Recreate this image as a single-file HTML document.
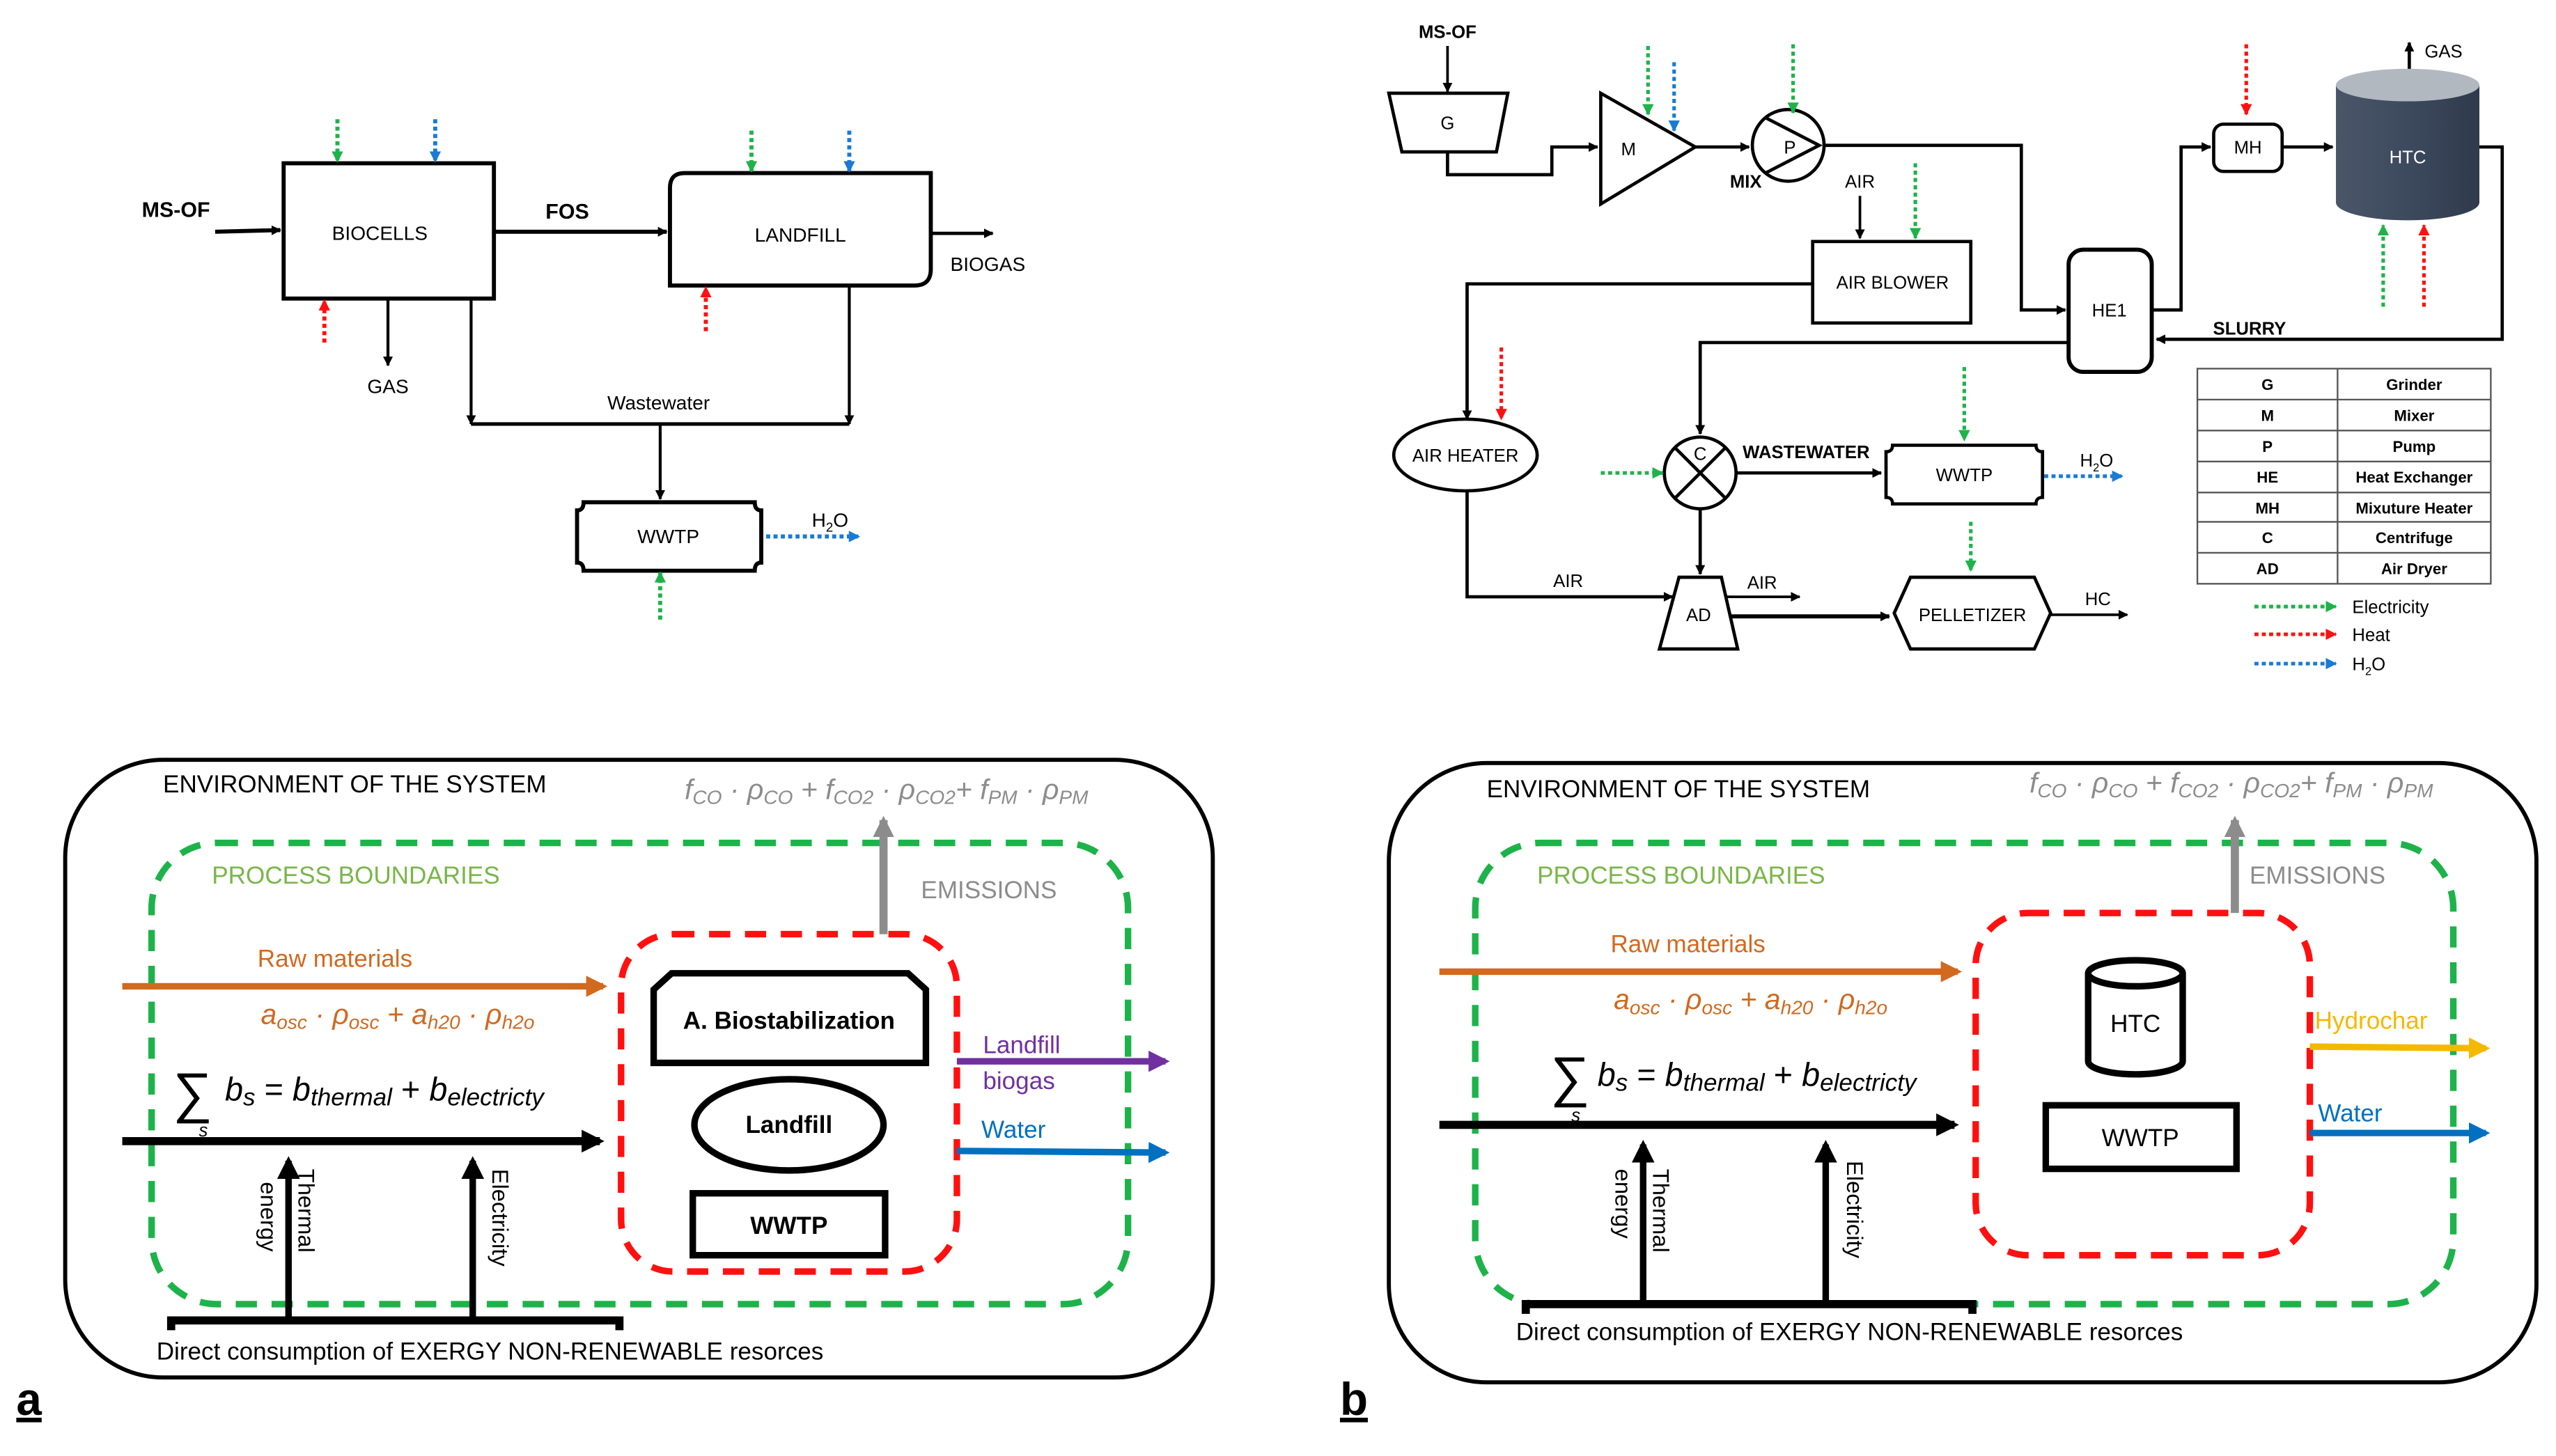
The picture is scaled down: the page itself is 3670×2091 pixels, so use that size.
<!DOCTYPE html>
<html><head><meta charset="utf-8"><style>
html,body{margin:0;padding:0;background:#fff}
svg{display:block}
text{font-family:"Liberation Sans Narrow","Liberation Sans",sans-serif}
.b{font-weight:bold}
</style></head><body>
<svg width="3670" height="2091" viewBox="0 0 1568 893" xmlns="http://www.w3.org/2000/svg">
<defs>
<marker id="ak" viewBox="0 0 10 10" refX="9" refY="5" markerWidth="6" markerHeight="6" markerUnits="userSpaceOnUse" orient="auto"><path d="M0,0L10,5L0,10z" fill="#000"/></marker>
<marker id="ag" viewBox="0 0 10 10" refX="9" refY="5" markerWidth="7" markerHeight="7" markerUnits="userSpaceOnUse" orient="auto"><path d="M0,0L10,5L0,10z" fill="#1db34a"/></marker>
<marker id="ar" viewBox="0 0 10 10" refX="9" refY="5" markerWidth="7" markerHeight="7" markerUnits="userSpaceOnUse" orient="auto"><path d="M0,0L10,5L0,10z" fill="#ff1010"/></marker>
<marker id="ab" viewBox="0 0 10 10" refX="9" refY="5" markerWidth="7" markerHeight="7" markerUnits="userSpaceOnUse" orient="auto"><path d="M0,0L10,5L0,10z" fill="#1a7ad4"/></marker>
<marker id="AK" viewBox="0 0 10 10" refX="8" refY="5" markerWidth="14" markerHeight="14" markerUnits="userSpaceOnUse" orient="auto"><path d="M0,0L10,5L0,10z" fill="#000"/></marker>
<marker id="AO" viewBox="0 0 10 10" refX="8" refY="5" markerWidth="13" markerHeight="13" markerUnits="userSpaceOnUse" orient="auto"><path d="M0,0L10,5L0,10z" fill="#d2691e"/></marker>
<marker id="AG" viewBox="0 0 10 10" refX="8" refY="5" markerWidth="13" markerHeight="13" markerUnits="userSpaceOnUse" orient="auto"><path d="M0,0L10,5L0,10z" fill="#8c8c8c"/></marker>
<marker id="AP" viewBox="0 0 10 10" refX="8" refY="5" markerWidth="13" markerHeight="13" markerUnits="userSpaceOnUse" orient="auto"><path d="M0,0L10,5L0,10z" fill="#7030a0"/></marker>
<marker id="AB" viewBox="0 0 10 10" refX="8" refY="5" markerWidth="13" markerHeight="13" markerUnits="userSpaceOnUse" orient="auto"><path d="M0,0L10,5L0,10z" fill="#0070c0"/></marker>
<marker id="AY" viewBox="0 0 10 10" refX="8" refY="5" markerWidth="13" markerHeight="13" markerUnits="userSpaceOnUse" orient="auto"><path d="M0,0L10,5L0,10z" fill="#f5b800"/></marker>
</defs>

<!-- ===== Panel a top ===== -->
<g fill="none" stroke="#000" stroke-width="2.5">
<text x="87" y="133" class="b" font-size="13" fill="#000" stroke="none">MS-OF</text>
<line x1="132" y1="142" x2="172" y2="141" marker-end="url(#ak)"/>
<rect x="174" y="100" width="129" height="83"/>
<line x1="303" y1="142" x2="409" y2="142" marker-end="url(#ak)"/>
<path d="M420,106 H571 V165 Q571,175 561,175 H411 V115 Q411,106 420,106Z"/>
<line x1="571" y1="143" x2="609" y2="143" marker-end="url(#ak)" stroke-width="2"/>
<line x1="238" y1="183" x2="238" y2="224" marker-end="url(#ak)" stroke-width="1.8"/>
<line x1="289" y1="183" x2="289" y2="260" stroke-width="1.8" marker-end="url(#ak)"/>
<line x1="521" y1="175" x2="521" y2="260" stroke-width="1.8" marker-end="url(#ak)"/>
<line x1="289" y1="260" x2="521" y2="260" stroke-width="2.2"/>
<line x1="405" y1="260" x2="405" y2="306" marker-end="url(#ak)" stroke-width="1.8"/>
<path d="M358,308 H463 Q463,313 467,313 V345 Q463,345 463,350 H358 Q358,345 354,345 V313 Q358,313 358,308Z"/>
</g>
<g font-size="12" fill="#000">
<text x="233" y="147" text-anchor="middle">BIOCELLS</text>
<text x="491" y="148" text-anchor="middle">LANDFILL</text>
<text x="348" y="134" class="b" font-size="13" text-anchor="middle">FOS</text>
<text x="606" y="166" text-anchor="middle">BIOGAS</text>
<text x="238" y="241" text-anchor="middle">GAS</text>
<text x="404" y="251" text-anchor="middle">Wastewater</text>
<text x="410" y="333" text-anchor="middle">WWTP</text>
<text x="498" y="323">H<tspan font-size="8" dy="3">2</tspan><tspan dy="-3">O</tspan></text>
</g>
<g fill="none" stroke-width="2.5" stroke-dasharray="2.5 2">
<line x1="207" y1="73" x2="207" y2="99" stroke="#1db34a" marker-end="url(#ag)"/>
<line x1="267" y1="73" x2="267" y2="99" stroke="#1a7ad4" marker-end="url(#ab)"/>
<line x1="461" y1="80" x2="461" y2="105" stroke="#1db34a" marker-end="url(#ag)"/>
<line x1="521" y1="80" x2="521" y2="105" stroke="#1a7ad4" marker-end="url(#ab)"/>
<line x1="199" y1="210" x2="199" y2="184" stroke="#ff1010" marker-end="url(#ar)"/>
<line x1="433" y1="203" x2="433" y2="176" stroke="#ff1010" marker-end="url(#ar)"/>
<line x1="405" y1="380" x2="405" y2="351" stroke="#1db34a" marker-end="url(#ag)"/>
<line x1="470" y1="329" x2="527" y2="329" stroke="#1a7ad4" marker-end="url(#ab)"/>
</g>

<!-- ===== Panel b top ===== -->
<defs>
<linearGradient id="cyl" x1="0" x2="1"><stop offset="0" stop-color="#4a5568"/><stop offset="0.5" stop-color="#3d4a5e"/><stop offset="1" stop-color="#2f3a4c"/></linearGradient>
</defs>
<g fill="none" stroke="#000" stroke-width="2">
<line x1="888" y1="28" x2="888" y2="56" marker-end="url(#ak)" stroke-width="1.6"/>
<path d="M852,57 H925 L918,93 H860Z"/>
<path d="M888,93 V107 H952 V90 H980" marker-end="url(#ak)"/>
<path d="M982,57 L1040,90 L982,125Z"/>
<line x1="1040" y1="90" x2="1073" y2="90" marker-end="url(#ak)"/>
<circle cx="1097" cy="89" r="22"/>
<path d="M1083,72 L1116,89 L1083,106"/>
<path d="M1119,89 H1240 V190 H1267" marker-end="url(#ak)"/>
<rect x="1269" y="153" width="51" height="75" rx="9" stroke-width="2.5"/>
<line x1="1141" y1="120" x2="1141" y2="146" marker-end="url(#ak)" stroke-width="1.6"/>
<rect x="1112" y="148" width="97" height="50"/>
<path d="M1112,174 H900 V257" marker-end="url(#ak)"/>
<ellipse cx="899" cy="279" rx="44" ry="22"/>
<path d="M900,301 V366 H1026" marker-end="url(#ak)"/>
<path d="M1320,190 H1338 V90 H1356" marker-end="url(#ak)"/>
<rect x="1358" y="76" width="42" height="29" rx="6"/>
<line x1="1400" y1="90" x2="1431" y2="90" marker-end="url(#ak)"/>
<path d="M1521,90 H1535 V208 H1323" marker-end="url(#ak)"/>
<path d="M1269,210 H1043 V266" marker-end="url(#ak)"/>
<circle cx="1043" cy="290" r="22"/>
<line x1="1028" y1="275" x2="1058" y2="305"/><line x1="1058" y1="275" x2="1028" y2="305"/>
<line x1="1065" y1="290" x2="1154" y2="290" marker-end="url(#ak)"/>
<path d="M1161,273 H1249 Q1249,277 1253,277 V305 Q1249,305 1249,309 H1161 Q1161,305 1157,305 V277 Q1161,277 1161,273Z"/>
<line x1="1043" y1="312" x2="1043" y2="352" marker-end="url(#ak)"/>
<path d="M1030,354 H1056 L1066,398 H1018Z"/>
<line x1="1058" y1="366" x2="1104" y2="366" marker-end="url(#ak)" stroke-width="1.6"/>
<line x1="1061" y1="378" x2="1159" y2="378" marker-end="url(#ak)" stroke-width="2.5"/>
<path d="M1172,354 H1248 L1258,376 L1248,398 H1172 L1162,376Z"/>
<line x1="1258" y1="377" x2="1305" y2="377" marker-end="url(#ak)" stroke-width="1.6"/>
<line x1="1478" y1="52" x2="1478" y2="26" marker-end="url(#ak)"/>
</g>
<path d="M1433,52 V124 A44,11 0 0 0 1521,124 V52Z" fill="url(#cyl)"/>
<ellipse cx="1477" cy="52" rx="44" ry="10" fill="#b2b8c0"/>
<g font-size="11" fill="#000">
<text x="888" y="23" class="b" text-anchor="middle">MS-OF</text>
<text x="888" y="79" text-anchor="middle">G</text>
<text x="999" y="95" text-anchor="middle">M</text>
<text x="1098" y="94" text-anchor="middle">P</text>
<text x="1071" y="115" class="b" text-anchor="middle">MIX</text>
<text x="1141" y="115" text-anchor="middle">AIR</text>
<text x="1161" y="177" text-anchor="middle">AIR BLOWER</text>
<text x="1294" y="194" text-anchor="middle">HE1</text>
<text x="1379" y="94" text-anchor="middle">MH</text>
<text x="1477" y="100" text-anchor="middle" fill="#fff">HTC</text>
<text x="1499" y="35" text-anchor="middle">GAS</text>
<text x="1380" y="205" class="b" text-anchor="middle">SLURRY</text>
<text x="899" y="283" text-anchor="middle">AIR HEATER</text>
<text x="1043" y="282" text-anchor="middle">C</text>
<text x="1108" y="281" class="b" text-anchor="middle">WASTEWATER</text>
<text x="1205" y="295" text-anchor="middle">WWTP</text>
<text x="1276" y="286">H<tspan font-size="7" dy="3">2</tspan><tspan dy="-3">O</tspan></text>
<text x="962" y="360" text-anchor="middle">AIR</text>
<text x="1081" y="361" text-anchor="middle">AIR</text>
<text x="1042" y="381" text-anchor="middle">AD</text>
<text x="1210" y="381" text-anchor="middle">PELLETIZER</text>
<text x="1287" y="371" text-anchor="middle">HC</text>
</g>
<g fill="none" stroke-width="2.2" stroke-dasharray="2.5 2">
<line x1="1011" y1="28" x2="1011" y2="70" stroke="#1db34a" marker-end="url(#ag)"/>
<line x1="1027" y1="38" x2="1027" y2="80" stroke="#1a7ad4" marker-end="url(#ab)"/>
<line x1="1100" y1="27" x2="1100" y2="69" stroke="#1db34a" marker-end="url(#ag)"/>
<line x1="1175" y1="100" x2="1175" y2="146" stroke="#1db34a" marker-end="url(#ag)"/>
<line x1="1378" y1="27" x2="1378" y2="70" stroke="#ff1010" marker-end="url(#ar)"/>
<line x1="1462" y1="188" x2="1462" y2="138" stroke="#1db34a" marker-end="url(#ag)"/>
<line x1="1487" y1="188" x2="1487" y2="138" stroke="#ff1010" marker-end="url(#ar)"/>
<line x1="921" y1="213" x2="921" y2="257" stroke="#ff1010" marker-end="url(#ar)"/>
<line x1="982" y1="290" x2="1020" y2="290" stroke="#1db34a" marker-end="url(#ag)"/>
<line x1="1205" y1="225" x2="1205" y2="270" stroke="#1db34a" marker-end="url(#ag)"/>
<line x1="1254" y1="292" x2="1302" y2="292" stroke="#1a7ad4" marker-end="url(#ab)"/>
<line x1="1209" y1="320" x2="1209" y2="350" stroke="#1db34a" marker-end="url(#ag)"/>
<line x1="1383" y1="372" x2="1433" y2="372" stroke="#1db34a" marker-end="url(#ag)"/>
<line x1="1383" y1="389" x2="1433" y2="389" stroke="#ff1010" marker-end="url(#ar)"/>
<line x1="1383" y1="407" x2="1433" y2="407" stroke="#1a7ad4" marker-end="url(#ab)"/>
</g>
<g fill="none" stroke="#555" stroke-width="1">
<rect x="1348" y="226" width="180" height="132"/>
<line x1="1434" y1="226" x2="1434" y2="358"/>
<line x1="1348" y1="245" x2="1528" y2="245"/><line x1="1348" y1="264" x2="1528" y2="264"/>
<line x1="1348" y1="283" x2="1528" y2="283"/><line x1="1348" y1="302" x2="1528" y2="302"/>
<line x1="1348" y1="320" x2="1528" y2="320"/><line x1="1348" y1="339" x2="1528" y2="339"/>
</g>
<g font-size="9.5" fill="#000" text-anchor="middle" font-weight="bold">
<text x="1391" y="239">G</text><text x="1481" y="239">Grinder</text>
<text x="1391" y="258">M</text><text x="1481" y="258">Mixer</text>
<text x="1391" y="277">P</text><text x="1481" y="277">Pump</text>
<text x="1391" y="296">HE</text><text x="1481" y="296">Heat Exchanger</text>
<text x="1391" y="315">MH</text><text x="1481" y="315">Mixuture Heater</text>
<text x="1391" y="333">C</text><text x="1481" y="333">Centrifuge</text>
<text x="1391" y="352">AD</text><text x="1481" y="352">Air Dryer</text>
</g>
<g font-size="11" fill="#000">
<text x="1443" y="376">Electricity</text>
<text x="1443" y="393">Heat</text>
<text x="1443" y="411">H<tspan font-size="7" dy="3">2</tspan><tspan dy="-3">O</tspan></text>
</g>

<!-- ===== Panel a bottom ===== -->
<g fill="none">
<rect x="40" y="466" width="704" height="379" rx="60" stroke="#000" stroke-width="2.5"/>
<rect x="93" y="517" width="599" height="283" rx="40" stroke="#1db34a" stroke-width="4" stroke-dasharray="13 9"/>
<rect x="381" y="573" width="206" height="207" rx="32" stroke="#ff1010" stroke-width="4" stroke-dasharray="13 9"/>
<line x1="542" y1="573" x2="542" y2="503" stroke="#8c8c8c" stroke-width="5" marker-end="url(#AG)"/>
<line x1="75" y1="605" x2="370" y2="605" stroke="#d2691e" stroke-width="4" marker-end="url(#AO)"/>
<line x1="75" y1="700" x2="368" y2="700" stroke="#000" stroke-width="5" marker-end="url(#AK)"/>
<line x1="177" y1="808" x2="177" y2="712" stroke="#000" stroke-width="4" marker-end="url(#AK)"/>
<line x1="290" y1="808" x2="290" y2="712" stroke="#000" stroke-width="4" marker-end="url(#AK)"/>
<path d="M105,816 V810 H380 V816" stroke="#000" stroke-width="5"/>
<path d="M412,597 H557 L568,607 V652 H401 V607Z" stroke="#000" stroke-width="4"/>
<ellipse cx="484" cy="690" rx="58" ry="28" stroke="#000" stroke-width="4"/>
<rect x="425" y="732" width="118" height="38" stroke="#000" stroke-width="4"/>
<line x1="587" y1="651" x2="715" y2="651" stroke="#7030a0" stroke-width="4" marker-end="url(#AP)"/>
<line x1="587" y1="706" x2="715" y2="707" stroke="#0070c0" stroke-width="4" marker-end="url(#AB)"/>
</g>
<g font-size="15">
<text x="100" y="486">ENVIRONMENT OF THE SYSTEM</text>
<text x="420" y="490" fill="#8c8c8c" font-style="italic" font-family="Liberation Serif,serif" font-size="17.5">f<tspan font-size="12" dy="3">CO</tspan><tspan dy="-3"> · ρ</tspan><tspan font-size="12" dy="3">CO</tspan><tspan dy="-3"> + f</tspan><tspan font-size="12" dy="3">CO2</tspan><tspan dy="-3"> · ρ</tspan><tspan font-size="12" dy="3">CO2</tspan><tspan dy="-3">+ f</tspan><tspan font-size="12" dy="3">PM</tspan><tspan dy="-3"> · ρ</tspan><tspan font-size="12" dy="3">PM</tspan></text>
<text x="130" y="542" fill="#7ab648">PROCESS BOUNDARIES</text>
<text x="565" y="551" fill="#8c8c8c">EMISSIONS</text>
<text x="158" y="593" fill="#d2691e">Raw materials</text>
<text x="160" y="628" fill="#d2691e" font-style="italic" font-family="Liberation Serif,serif" font-size="17.5">a<tspan font-size="12" dy="3">osc</tspan><tspan dy="-3"> · ρ</tspan><tspan font-size="12" dy="3">osc</tspan><tspan dy="-3"> + a</tspan><tspan font-size="12" dy="3">h20</tspan><tspan dy="-3"> · ρ</tspan><tspan font-size="12" dy="3">h2o</tspan></text>
<text x="106" y="682" font-size="34" font-family="Liberation Serif,serif">∑</text>
<text x="122" y="697" font-size="11" font-style="italic" font-family="Liberation Serif,serif">s</text>
<text x="138" y="675" font-size="20" font-style="italic" font-family="Liberation Serif,serif">b<tspan font-size="15" dy="3">s</tspan><tspan dy="-3" font-style="normal"> = </tspan>b<tspan font-size="15" dy="3">thermal</tspan><tspan dy="-3" font-style="normal"> + </tspan>b<tspan font-size="15" dy="3">electricty</tspan></text>
<text x="484" y="631" text-anchor="middle" class="b">A. Biostabilization</text>
<text x="484" y="695" text-anchor="middle" class="b">Landfill</text>
<text x="484" y="757" text-anchor="middle" class="b">WWTP</text>
<text x="603" y="646" fill="#7030a0">Landfill</text>
<text x="603" y="668" fill="#7030a0">biogas</text>
<text x="602" y="698" fill="#0070c0">Water</text>
<text x="96" y="834">Direct consumption of EXERGY NON-RENEWABLE resorces</text>
<text transform="translate(183,717) rotate(90)" font-size="14" font-family="Liberation Sans,sans-serif">Thermal</text>
<text transform="translate(160,725) rotate(90)" font-size="14" font-family="Liberation Sans,sans-serif">energy</text>
<text transform="translate(302,717) rotate(90)" font-size="14" font-family="Liberation Sans,sans-serif">Electricity</text>
<text x="10" y="868" font-size="28" font-weight="bold" font-family="Liberation Serif,serif" text-decoration="underline">a</text>
</g>

<!-- ===== Panel b bottom ===== -->
<g fill="none">
<rect x="852" y="468" width="704" height="380" rx="60" stroke="#000" stroke-width="2.5"/>
<rect x="905" y="517" width="600" height="283" rx="40" stroke="#1db34a" stroke-width="4" stroke-dasharray="13 9"/>
<rect x="1212" y="560" width="205" height="210" rx="32" stroke="#ff1010" stroke-width="4" stroke-dasharray="13 9"/>
<line x1="1371" y1="560" x2="1371" y2="503" stroke="#8c8c8c" stroke-width="5" marker-end="url(#AG)"/>
<line x1="883" y1="596" x2="1201" y2="596" stroke="#d2691e" stroke-width="4" marker-end="url(#AO)"/>
<line x1="883" y1="690" x2="1199" y2="690" stroke="#000" stroke-width="5" marker-end="url(#AK)"/>
<line x1="1008" y1="800" x2="1008" y2="702" stroke="#000" stroke-width="4" marker-end="url(#AK)"/>
<line x1="1120" y1="800" x2="1120" y2="702" stroke="#000" stroke-width="4" marker-end="url(#AK)"/>
<path d="M936,806 V800 H1210 V806" stroke="#000" stroke-width="5"/>
<path d="M1281,597 V651 A29,8 0 0 0 1339,651 V597" stroke="#000" stroke-width="4"/>
<ellipse cx="1310" cy="597" rx="29" ry="8" stroke="#000" stroke-width="4"/>
<rect x="1255" y="678" width="117" height="39" stroke="#000" stroke-width="4"/>
<line x1="1417" y1="642" x2="1525" y2="643" stroke="#f5b800" stroke-width="4" marker-end="url(#AY)"/>
<line x1="1417" y1="695" x2="1525" y2="695" stroke="#0070c0" stroke-width="4" marker-end="url(#AB)"/>
</g>
<g font-size="15">
<text x="912" y="489">ENVIRONMENT OF THE SYSTEM</text>
<text x="1245" y="486" fill="#8c8c8c" font-style="italic" font-family="Liberation Serif,serif" font-size="17.5">f<tspan font-size="12" dy="3">CO</tspan><tspan dy="-3"> · ρ</tspan><tspan font-size="12" dy="3">CO</tspan><tspan dy="-3"> + f</tspan><tspan font-size="12" dy="3">CO2</tspan><tspan dy="-3"> · ρ</tspan><tspan font-size="12" dy="3">CO2</tspan><tspan dy="-3">+ f</tspan><tspan font-size="12" dy="3">PM</tspan><tspan dy="-3"> · ρ</tspan><tspan font-size="12" dy="3">PM</tspan></text>
<text x="943" y="542" fill="#7ab648">PROCESS BOUNDARIES</text>
<text x="1380" y="542" fill="#8c8c8c">EMISSIONS</text>
<text x="988" y="584" fill="#d2691e">Raw materials</text>
<text x="990" y="619" fill="#d2691e" font-style="italic" font-family="Liberation Serif,serif" font-size="17.5">a<tspan font-size="12" dy="3">osc</tspan><tspan dy="-3"> · ρ</tspan><tspan font-size="12" dy="3">osc</tspan><tspan dy="-3"> + a</tspan><tspan font-size="12" dy="3">h20</tspan><tspan dy="-3"> · ρ</tspan><tspan font-size="12" dy="3">h2o</tspan></text>
<text x="951" y="672" font-size="34" font-family="Liberation Serif,serif">∑</text>
<text x="964" y="688" font-size="11" font-style="italic" font-family="Liberation Serif,serif">s</text>
<text x="980" y="666" font-size="20" font-style="italic" font-family="Liberation Serif,serif">b<tspan font-size="15" dy="3">s</tspan><tspan dy="-3" font-style="normal"> = </tspan>b<tspan font-size="15" dy="3">thermal</tspan><tspan dy="-3" font-style="normal"> + </tspan>b<tspan font-size="15" dy="3">electricty</tspan></text>
<text x="1310" y="633" text-anchor="middle">HTC</text>
<text x="1313" y="703" text-anchor="middle">WWTP</text>
<text x="1420" y="631" fill="#f5b800">Hydrochar</text>
<text x="1422" y="688" fill="#0070c0">Water</text>
<text x="930" y="822">Direct consumption of EXERGY NON-RENEWABLE resorces</text>
<text transform="translate(1014,717) rotate(90)" font-size="14" font-family="Liberation Sans,sans-serif">Thermal</text>
<text transform="translate(991,717) rotate(90)" font-size="14" font-family="Liberation Sans,sans-serif">energy</text>
<text transform="translate(1133,712) rotate(90)" font-size="14" font-family="Liberation Sans,sans-serif">Electricity</text>
<text x="822" y="868" font-size="28" font-weight="bold" font-family="Liberation Serif,serif" text-decoration="underline">b</text>
</g>
</svg>
</body></html>
